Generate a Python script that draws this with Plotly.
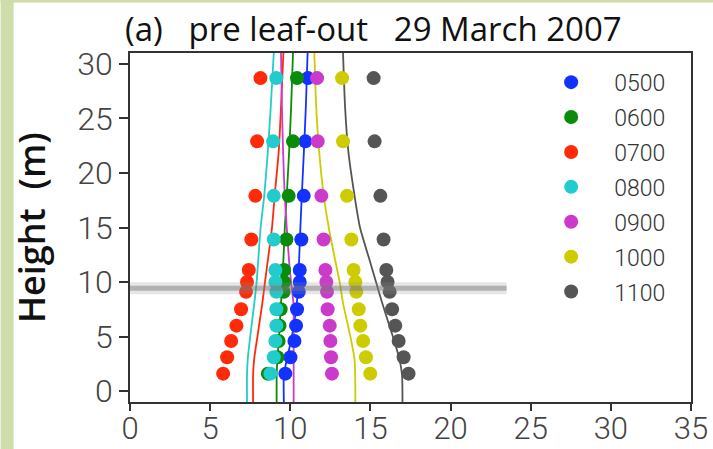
import plotly.graph_objects as go

# ---------------- data ----------------
series_names = ["0500", "0600", "0700", "0800", "0900", "1000", "1100"]
series_colors = ["#1432ff", "#0a8c0a", "#ff2a0a", "#22cccc", "#cc3acc", "#cccc00", "#555555"]

obs_heights = [28.7, 22.9, 17.9, 13.9, 11.1, 10.0, 9.1, 7.5, 6.0, 4.6, 3.1, 1.6]
obs_0500 = [11.10, 10.94, 10.84, 10.69, 10.59, 10.59, 10.53, 10.42, 10.36, 10.26, 10.01, 9.69]
obs_0600 = [10.42, 10.17, 9.90, 9.76, 9.62, 9.62, 9.59, 9.40, 9.33, 9.27, 9.20, 8.60]
obs_0700 = [8.14, 7.93, 7.82, 7.57, 7.41, 7.30, 7.24, 6.93, 6.64, 6.31, 6.06, 5.81]
obs_0800 = [9.13, 8.93, 8.97, 8.97, 9.07, 9.07, 9.13, 9.13, 9.13, 9.07, 8.97, 8.76]
obs_0900 = [11.67, 11.71, 11.94, 12.08, 12.19, 12.25, 12.29, 12.33, 12.46, 12.50, 12.54, 12.60]
obs_1000 = [13.23, 13.29, 13.54, 13.81, 13.95, 14.06, 14.12, 14.27, 14.37, 14.54, 14.72, 14.99]
obs_1100 = [15.20, 15.26, 15.62, 15.82, 15.99, 16.07, 16.20, 16.35, 16.55, 16.76, 17.07, 17.38]

model_heights = [-1, 1.5, 3, 5, 8, 10, 12, 15, 18, 22, 26, 31]
mod_0500 = [9.60, 9.60, 9.80, 10.10, 10.40, 10.50, 10.55, 10.63, 10.72, 10.85, 10.97, 11.08]
mod_0600 = [9.15, 9.15, 9.20, 9.30, 9.42, 9.50, 9.57, 9.66, 9.78, 9.93, 10.05, 10.17]
mod_0700 = [7.68, 7.68, 7.75, 7.95, 8.25, 8.42, 8.60, 8.86, 9.03, 9.28, 9.42, 9.57]
mod_0800 = [7.30, 7.30, 7.35, 7.50, 7.75, 7.90, 8.00, 8.15, 8.38, 8.60, 8.78, 8.97]
mod_0900 = [10.21, 10.21, 10.21, 10.21, 10.20, 10.05, 9.92, 9.78, 9.65, 9.55, 9.48, 9.42]
mod_1000 = [14.06, 14.05, 14.00, 13.75, 13.30, 13.08, 12.80, 12.40, 12.08, 11.80, 11.62, 11.50]
mod_1100 = [17.00, 16.97, 16.80, 16.40, 15.75, 15.35, 14.95, 14.35, 14.00, 13.62, 13.42, 13.29]

canopy_height = 9.42
canopy_x = [0, 23.5]

x_ticks = [0, 5, 10, 15, 20, 25, 30, 35]
y_ticks = [0, 5, 10, 15, 20, 25, 30]

obs_all = [obs_0500, obs_0600, obs_0700, obs_0800, obs_0900, obs_1000, obs_1100]
mod_all = [mod_0500, mod_0600, mod_0700, mod_0800, mod_0900, mod_1000, mod_1100]

# ---------------- geometry (pixels) ----------------
W, H = 713, 449
ML, MR, MT, MB = 129.5, 22, 53.3, 47.3
PW, PH = W - ML - MR, H - MT - MB


def px(xp):
    return (xp - ML) / PW


def py(yp):
    return (H - MB - yp) / PH


# ---------------- figure ----------------
fig = go.Figure()

for name, col, mod in zip(series_names, series_colors, mod_all):
    fig.add_trace(go.Scatter(
        x=mod, y=model_heights, mode="lines", showlegend=False,
        line=dict(color=col, width=1.8, shape="spline", smoothing=0.6),
        hoverinfo="skip"))

for name, col, obs in zip(series_names, series_colors, obs_all):
    fig.add_trace(go.Scatter(
        x=obs, y=obs_heights, mode="markers", name=name, legendgroup=name,
        marker=dict(color=col, size=14, line=dict(width=0))))

# canopy band (soft gray)
fig.add_trace(go.Scatter(x=canopy_x, y=[canopy_height] * 2, mode="lines",
                         showlegend=False, hoverinfo="skip",
                         line=dict(color="rgba(140,140,140,0.22)", width=12)))
fig.add_trace(go.Scatter(x=canopy_x, y=[canopy_height] * 2, mode="lines",
                         showlegend=False, hoverinfo="skip",
                         line=dict(color="rgba(115,115,115,0.45)", width=5)))

ytick_font = dict(family="Roboto", size=32, color="#444444", weight=300)
xtick_font = dict(family="Roboto", size=31, color="#444444", weight=300)
sp = "\u00a0"

fig.update_layout(
    width=W, height=H,
    margin=dict(l=ML, r=MR, t=MT, b=MB),
    paper_bgcolor="white", plot_bgcolor="white",
    showlegend=True,
    legend=dict(x=px(528), y=py(61), xanchor="left", yanchor="top",
                bgcolor="rgba(0,0,0,0)",
                font=dict(family="Roboto", size=23, color="#333333", weight=300),
                tracegroupgap=2, itemwidth=76),
    xaxis=dict(range=[0, 35], tickvals=x_ticks, showgrid=False, zeroline=False,
               showline=True, linecolor="#333333", linewidth=1.5, mirror=True,
               ticks="outside", ticklen=7, tickcolor="#333333", tickwidth=1.5,
               tickfont=xtick_font, ticklabelstandoff=-9, automargin=False),
    yaxis=dict(range=[-1, 31], tickvals=y_ticks, showgrid=False, zeroline=False,
               showline=True, linecolor="#333333", linewidth=1.5, mirror=True,
               ticks="outside", ticklen=9, tickcolor="#333333", tickwidth=1.5,
               tickfont=ytick_font, automargin=False),
    annotations=[
        dict(text="(a)" + sp * 3 + "pre leaf-out" + sp * 3 + "29 March 2007",
             xref="paper", yref="paper", x=px(122), y=py(29),
             xanchor="left", yanchor="middle", showarrow=False,
             font=dict(family="Open Sans", size=33, color="#111111")),
        dict(text="Height" + sp * 2 + "(m)", xref="paper", yref="paper", textangle=-90,
             x=px(31), y=py(227.5), xanchor="center", yanchor="middle",
             showarrow=False, font=dict(family="Open Sans", size=36, color="#111111", weight=600)),
    ],
    shapes=[
        dict(type="rect", xref="paper", yref="paper", layer="below",
             x0=px(0), x1=px(13), y0=py(H), y1=py(0),
             fillcolor="#cfdcab", line=dict(width=0)),
        dict(type="rect", xref="paper", yref="paper", layer="below",
             x0=px(0), x1=px(W), y0=py(3), y1=py(0),
             fillcolor="#cfdcab", line=dict(width=0)),
    ],
)

fig.write_html("out.html")
